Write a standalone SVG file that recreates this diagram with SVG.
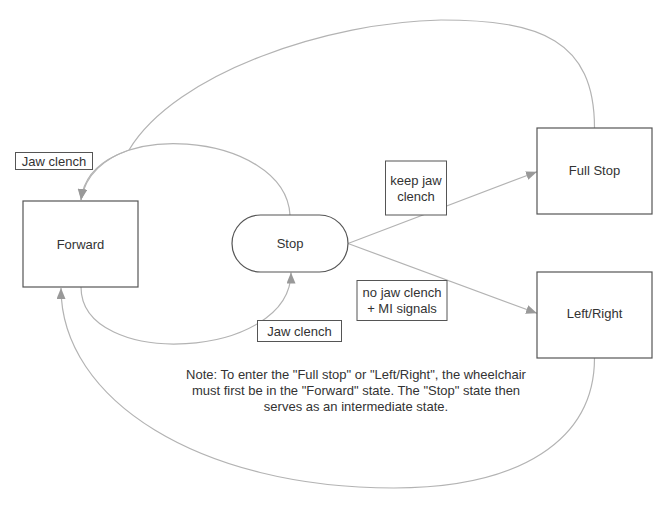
<svg xmlns="http://www.w3.org/2000/svg" width="672" height="508" viewBox="0 0 672 508">
<style>
.node{fill:#fff;stroke:#555;stroke-width:1.2}
.lbl{fill:#fff;stroke:#555;stroke-width:1}
.edge{fill:none;stroke:#b3b3b3;stroke-width:1.2}
text{font-family:"Liberation Sans",Arial,sans-serif;font-size:13px;fill:#333;text-anchor:middle;dominant-baseline:central}
</style>
<defs>
<marker id="arr" markerUnits="userSpaceOnUse" markerWidth="12" markerHeight="10" refX="11" refY="4.5" orient="auto">
<path d="M0,0 L11,4.5 L0,9 z" fill="#999"/>
</marker>
</defs>
<rect width="672" height="508" fill="#fff"/>
<g id="connectors">
<path class="edge" d="M594.5,128 C594.5,40 540,20 441,20 C330,22 176,72 129,150 C105.2,158 85.2,174.5 81,200" marker-end="url(#arr)"/>
<path class="edge" d="M290,215 C285,130 90,116 81,200" marker-end="url(#arr)"/>
<path class="edge" d="M81,287 C81,370 291,360 291,272.5" marker-end="url(#arr)"/>
<path class="edge" d="M594.5,358 C594.5,440 520,488 394,488 C200,488 61,400 61,288" marker-end="url(#arr)"/>
<path class="edge" d="M348,243.5 L537,171.7" marker-end="url(#arr)"/>
<path class="edge" d="M348,243.5 L537,313.3" marker-end="url(#arr)"/>
</g>
<g id="forward"><rect class="node" x="23" y="201" width="115" height="86"/><text x="80.5" y="244">Forward</text></g>
<g id="stop"><rect class="node" x="232" y="215" width="116" height="57" rx="28.5"/><text x="290" y="243.5">Stop</text></g>
<g id="fullstop"><rect class="node" x="537" y="128" width="115" height="86"/><text x="594.5" y="170">Full Stop</text></g>
<g id="leftright"><rect class="node" x="537" y="272" width="115" height="86"/><text x="594.5" y="313">Left/Right</text></g>
<g id="label-jaw-top"><rect class="lbl" x="15.5" y="152.5" width="77" height="17"/><text x="54" y="161">Jaw clench</text></g>
<g id="label-jaw-bottom"><rect class="lbl" x="257.5" y="320.5" width="84" height="21"/><text x="299.5" y="331">Jaw clench</text></g>
<g id="label-keep"><rect class="lbl" x="385.5" y="161" width="61" height="54"/><text x="416" y="180">keep jaw</text><text x="416" y="196">clench</text></g>
<g id="label-nojaw"><rect class="lbl" x="357" y="280.5" width="90" height="40"/><text x="402" y="292">no jaw clench</text><text x="402" y="308">+ MI signals</text></g>
<g id="note">
<text x="356" y="374">Note: To enter the "Full stop" or "Left/Right", the wheelchair</text>
<text x="356" y="390">must first be in the "Forward" state. The "Stop" state then</text>
<text x="356" y="406">serves as an intermediate state.</text>
</g>
</svg>
